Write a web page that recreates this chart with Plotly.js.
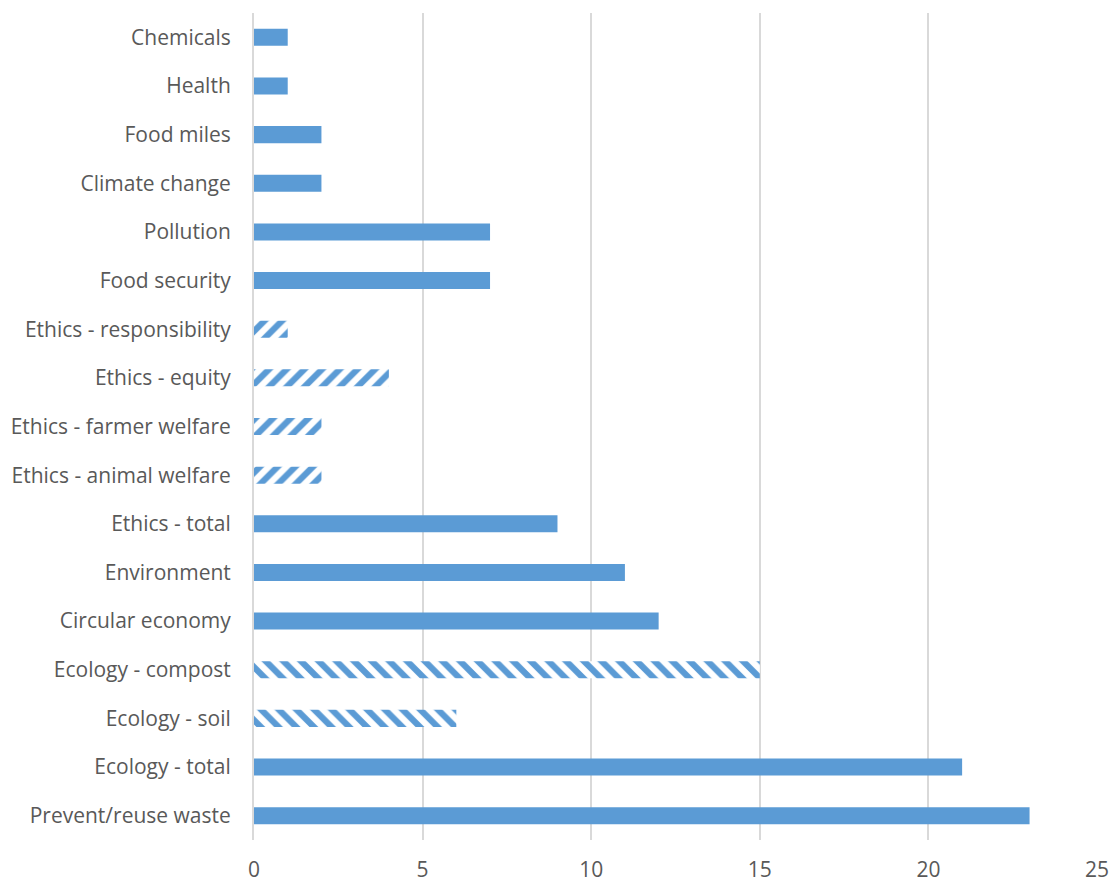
<!DOCTYPE html>
<html>
<head>
<meta charset="utf-8">
<script src="https://cdn.plot.ly/plotly-3.0.1.min.js"></script>
<style>html,body{margin:0;padding:0;background:#fff;}#chart{width:1113px;height:882px;}</style>
</head>
<body>
<div id="chart"></div>
<script>
const categories = [
  "Prevent/reuse waste", "Ecology - total", "Ecology - soil", "Ecology - compost",
  "Circular economy", "Environment", "Ethics - total", "Ethics - animal welfare",
  "Ethics - farmer welfare", "Ethics - equity", "Ethics - responsibility",
  "Food security", "Pollution", "Climate change", "Food miles", "Health", "Chemicals"
];
const values = [23, 21, 6, 15, 12, 11, 9, 2, 2, 4, 1, 7, 7, 2, 2, 1, 1];
const patterns = ["", "", "\\", "\\", "", "", "", "/", "/", "/", "/", "", "", "", "", "", ""];
const xTicks = [0, 5, 10, 15, 20, 25];

const trace = {
  type: "bar",
  orientation: "h",
  y: categories,
  x: values,
  width: 0.35,
  marker: {
    color: "#5b9bd5",
    line: {width: 0},
    pattern: {
      shape: patterns,
      fgcolor: "#5b9bd5",
      bgcolor: "#ffffff",
      fillmode: "replace",
      size: 12.5,
      solidity: 0.5
    }
  },
  hoverinfo: "x+y"
};

const layout = {
  width: 1113,
  height: 882,
  margin: {l: 254, r: 16, t: 13, b: 42},
  paper_bgcolor: "#ffffff",
  plot_bgcolor: "#ffffff",
  showlegend: false,
  bargap: 0.65,
  font: {family: "Open Sans, sans-serif", size: 21, color: "#595959"},
  xaxis: {
    range: [0, 25],
    tickvals: xTicks,
    ticktext: xTicks.map(String),
    showgrid: true,
    gridcolor: "#d9d9d9",
    gridwidth: 2,
    zeroline: false,
    showline: false,
    ticks: "",
    tickfont: {size: 21, color: "#595959"},
    ticklabelstandoff: 15,
    fixedrange: true
  },
  yaxis: {
    type: "category",
    categoryorder: "array",
    categoryarray: categories,
    showgrid: false,
    zeroline: false,
    showline: true,
    linecolor: "#d9d9d9",
    linewidth: 2,
    ticks: "",
    tickfont: {size: 21, color: "#595959"},
    ticklabelstandoff: 17,
    automargin: false,
    fixedrange: true
  }
};

Plotly.newPlot("chart", [trace], layout, {displayModeBar: false, staticPlot: true});
</script>
</body>
</html>
